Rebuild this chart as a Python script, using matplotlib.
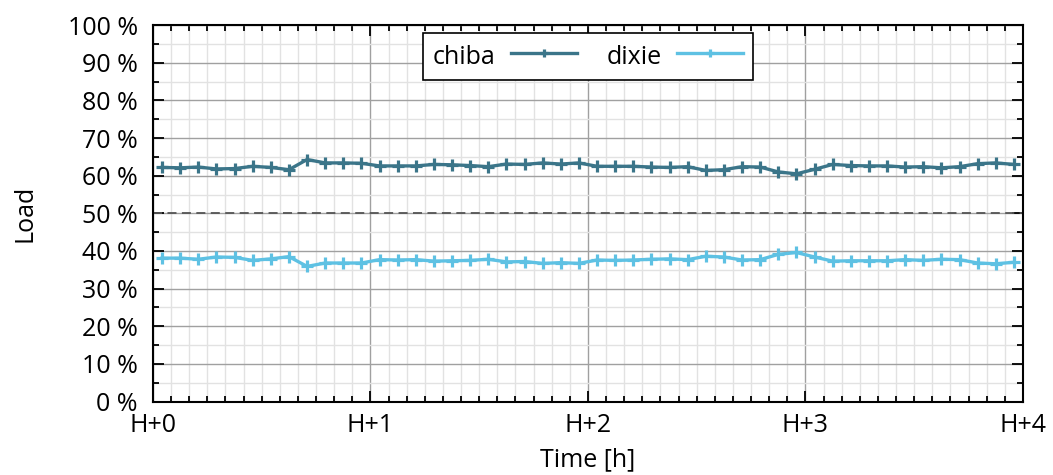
"""Charge chiba / dixie sur 4 h (pas de 5 min)."""
import numpy as np
import matplotlib
matplotlib.use("Agg")
import matplotlib.pyplot as plt
from matplotlib.ticker import MultipleLocator, FuncFormatter

plt.rcParams["font.family"] = ["Open Sans", "DejaVu Sans"]

# minutes depuis H+0, milieu de chaque intervalle de 5 min
minutes = [2.5 + 5 * k for k in range(48)]

chiba = [62.2, 62.1, 62.3, 61.8, 61.9, 62.5, 62.2, 61.6, 64.3, 63.4, 63.4, 63.3,
         62.6, 62.6, 62.6, 63.0, 62.9, 62.7, 62.4, 63.1, 63.0, 63.4, 63.1, 63.4,
         62.5, 62.5, 62.5, 62.3, 62.2, 62.4, 61.4, 61.6, 62.4, 62.3, 61.0, 60.5,
         61.7, 63.0, 62.7, 62.6, 62.6, 62.3, 62.4, 62.1, 62.4, 63.2, 63.4, 63.0]
dixie = [38.1, 38.1, 37.8, 38.4, 38.3, 37.5, 37.9, 38.5, 35.9, 36.8, 36.8, 36.8,
         37.7, 37.6, 37.7, 37.3, 37.4, 37.5, 37.8, 37.1, 37.2, 36.7, 36.9, 36.7,
         37.6, 37.5, 37.6, 37.8, 37.9, 37.7, 38.6, 38.4, 37.6, 37.7, 39.1, 39.6,
         38.4, 37.3, 37.4, 37.4, 37.4, 37.7, 37.5, 37.8, 37.7, 36.8, 36.6, 37.0]

hours = [0, 1, 2, 3, 4]
hour_labels = ["H+0", "H+1", "H+2", "H+3", "H+4"]
C_CHIBA = "#3b7589"
C_DIXIE = "#5ec1e3"
FS = 18

fig = plt.figure(figsize=(10.53, 4.75), dpi=100)
ax = fig.add_axes([0.1453, 0.1547, 0.8262, 0.7923])

t = np.array(minutes) / 60.0
ax.plot(t, chiba, color=C_CHIBA, lw=2.4, marker="+", ms=9, mew=2.3, label="chiba")
ax.plot(t, dixie, color=C_DIXIE, lw=2.4, marker="+", ms=9, mew=2.3, label="dixie")
ax.axhline(50, color="#555555", lw=1.3, ls=(0, (5, 3)), zorder=1)

ax.set_xlim(0, 4)
ax.set_ylim(0, 100)
ax.set_xticks(hours)
ax.set_xticklabels(hour_labels)
ax.xaxis.set_minor_locator(MultipleLocator(1 / 12))
ax.yaxis.set_major_locator(MultipleLocator(10))
ax.yaxis.set_minor_locator(MultipleLocator(5))
ax.yaxis.set_major_formatter(FuncFormatter(lambda v, p: f"{v:.0f} %"))

ax.grid(which="major", color="#a0a0a0", lw=1.0, zorder=0)
ax.grid(which="minor", color="#e2e2e2", lw=1.0, zorder=0)
ax.set_axisbelow(True)

ax.tick_params(which="both", direction="in", top=True, right=True,
               labelsize=FS, color="black", width=1.3)
ax.tick_params(which="major", length=8)
ax.tick_params(axis="y", which="major", pad=11)
ax.tick_params(axis="x", which="major", pad=8)
ax.tick_params(which="minor", length=4)
for s in ax.spines.values():
    s.set_linewidth(1.5)

ax.set_xlabel("Time [h]", fontsize=FS, labelpad=7)
ax.set_ylabel("Load", fontsize=FS, labelpad=22)

leg = ax.legend(loc="upper center", bbox_to_anchor=(0.5, 1.0), ncol=2,
                markerfirst=False, fontsize=FS, frameon=True, fancybox=False,
                edgecolor="black", framealpha=1, handlelength=2.65,
                handleheight=1.25, handletextpad=0.6, columnspacing=1.2,
                borderpad=0.4, borderaxespad=0.3, markerscale=0.6)
leg.get_frame().set_linewidth(1.2)

fig.savefig("out.png", dpi=100)
